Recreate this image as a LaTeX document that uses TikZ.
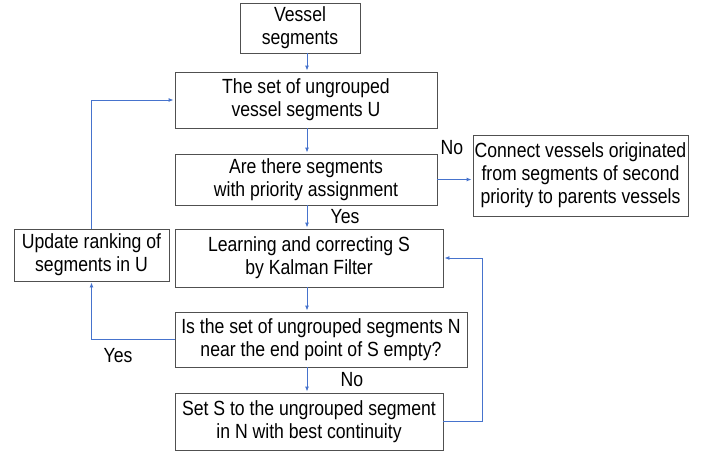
\documentclass[tikz,border=0pt]{standalone}
\usepackage{fontspec}
\setmainfont{Liberation Sans}[FakeStretch=0.86]
\usetikzlibrary{arrows.meta}
\definecolor{arrowblue}{RGB}{70,115,205}
\definecolor{boxgray}{RGB}{80,80,80}
\begin{document}
\begin{tikzpicture}[x=1pt,y=-1pt,
  box/.style={draw=boxgray,line width=0.9pt,inner sep=0pt,align=center,font=\fontsize{20.5}{23}\selectfont},
  lab/.style={inner sep=0pt,font=\fontsize{20.5}{23}\selectfont},
  arr/.style={draw=arrowblue,line width=0.9pt,-{Latex[length=5pt,width=4pt]},shorten >=1pt}]
\useasboundingbox (0,0) rectangle (709,455);
\node[box,minimum width=120pt,minimum height=50pt] (vs) at (300,28) {Vessel\\segments};
\node[box,minimum width=262pt,minimum height=56pt] (u) at (306,100) {The set of ungrouped\\vessel segments U};
\node[box,minimum width=262pt,minimum height=51pt] (are) at (306,179.5) {Are there segments\\with priority assignment};
\node[box,minimum width=215pt,minimum height=81pt] (con) at (580.5,175.5) {Connect vessels originated\\from segments of second\\priority to parents vessels};
\node[box,minimum width=155pt,minimum height=52pt] (upd) at (91.5,255) {Update ranking of\\segments in U};
\node[box,minimum width=268pt,minimum height=58pt] (learn) at (309,258) {Learning and correcting S\\by Kalman Filter};
\node[box,minimum width=292pt,minimum height=55pt] (is) at (321,339.5) {Is the set of ungrouped segments N\\near the end point of S empty?};
\node[box,minimum width=268pt,minimum height=57pt] (sets) at (309,421.5) {Set S to the ungrouped segment\\in N with best continuity};
\node[lab] (no1) at (452,148) {No};
\node[lab] (yes1) at (345,217) {Yes};
\node[lab] (yes2) at (118,356) {Yes};
\node[lab] (no2) at (352,380) {No};
\coordinate (col) at (307,0);
\coordinate (fb) at (482,0);
\draw[arr] (vs.south -| col) -- (u.north -| col);
\draw[arr] (u.south -| col) -- (are.north -| col);
\draw[arr] (are.south -| col) -- (learn.north -| col);
\draw[arr] (learn.south -| col) -- (is.north -| col);
\draw[arr] (is.south -| col) -- (sets.north -| col);
\draw[arr] (are.east) -- (con.west |- are.east);
\draw[arr] (is.west) -| (upd.south);
\draw[arr] (upd.north) |- (u.west);
\draw[arr] (sets.east) -- (sets.east -| fb) |- (learn.east);
\end{tikzpicture}
\end{document}
